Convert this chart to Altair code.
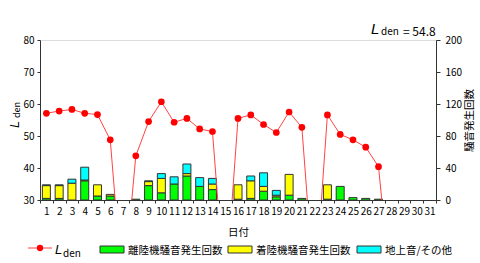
import altair as alt
import pandas as pd

days = list(range(1, 32))
lden = [57.1, 57.8, 58.3, 57.1, 56.7, 48.8, 0, 43.8, 54.5, 60.7, 54.3, 55.5, 52.2, 51.4, 0,
        55.5, 56.6, 53.6, 51.1, 57.5, 52.7, 0, 56.6, 50.5, 48.8, 46.5, 40.4, 0, None, None, None]
takeoff = [2, 2, 0, 24, 5, 5, 0, 1, 18, 9, 20, 30, 17, 13, 0, 1, 2, 11, 4, 6, 2, 0, 1, 17, 3, 2, 1, 0, 0, 0, 0]
landing = [16, 16, 21, 1, 14, 2, 0, 0, 5, 18, 0, 3, 0, 7, 0, 18, 22, 6, 2, 26, 0, 0, 18, 0, 0, 0, 0, 0, 0, 0, 0]
ground = [1, 1, 5, 16, 0, 0, 0, 0, 1, 6, 9, 12, 11, 7, 0, 0, 6, 17, 6, 0, 0, 0, 0, 0, 0, 0, 0, 0, 0, 0, 0]
series = ["離陸機騒音発生回数", "着陸機騒音発生回数", "地上音/その他"]
colors = ["#00FF00", "#FFFF00", "#00FFFF"]
lden_total = "= 54.8"

FONT = "Noto Sans CJK JP"

rows = []
for i, d in enumerate(days):
    for k, vals in enumerate([takeoff, landing, ground]):
        if vals[i] > 0:
            rows.append({"day": d, "series": series[k], "ord": k, "count": vals[i]})
bar_df = pd.DataFrame(rows)
line_df = pd.DataFrame({"day": days, "lden": lden})

xenc = alt.X("day:O", scale=alt.Scale(domain=days, paddingInner=0, paddingOuter=0),
             axis=alt.Axis(title="日付", labelAngle=0, labelFontSize=10, titleFontSize=10.5,
                           titleFontWeight="normal", tickBand="extent", tickSize=3,
                           labelPadding=3, titlePadding=11, domainColor="#333", tickColor="#333",
                           labelColor="#000", titleColor="#000"))

bars = alt.Chart(bar_df).mark_bar(size=8, stroke="#333", strokeWidth=1).encode(
    x=xenc,
    y=alt.Y("count:Q", stack="zero", scale=alt.Scale(domain=[0, 200]),
            axis=alt.Axis(orient="right", values=[0, 40, 80, 120, 160, 200], title="騒音発生回数",
                          titleAngle=270, titleFontSize=10.5, titleFontWeight="normal",
                          labelFontSize=10, tickSize=4, labelPadding=5, titlePadding=13, grid=False,
                          domainColor="#333", tickColor="#333", labelColor="#000", titleColor="#000")),
    color=alt.Color("series:N", scale=alt.Scale(domain=series, range=colors), legend=None),
    order=alt.Order("ord:Q"),
)

yl = alt.Y("lden:Q", scale=alt.Scale(domain=[30, 80], zero=False),
           axis=alt.Axis(orient="left", values=[30, 40, 50, 60, 70, 80], title=None,
                         labelFontSize=10, tickSize=3, labelPadding=3, grid=False,
                         domainColor="#333", tickColor="#333", labelColor="#000"))
line = alt.Chart(line_df).mark_line(color="#FF4444", strokeWidth=1, clip=True).encode(
    x=alt.X("day:O"), y=yl)
points = alt.Chart(line_df).mark_circle(color="#FF0000", size=45, opacity=1, clip=True).encode(
    x=alt.X("day:O"), y=yl)
lden_layer = alt.layer(line, points)

base = alt.Chart(pd.DataFrame({"k": [0]}))

def txt(s, x, y, size, italic=False, align="left", angle=0, baseline="alphabetic"):
    kw = dict(text=s, fontSize=size, align=align, baseline=baseline, font=FONT, color="#000")
    if italic:
        kw["fontStyle"] = "italic"
        kw["font"] = "Liberation Sans"
    if angle:
        kw["angle"] = angle
    return base.mark_text(**kw).encode(x=alt.value(x), y=alt.value(y))

ann = [
    txt("L", 331, -6, 15, italic=True),
    txt("den", 341, -5, 10),
    txt(lden_total, 363, -4, 12),
    # left axis title
    txt("L", -21, 88, 13, italic=True, angle=270),
    txt("den", -20, 78, 9, angle=270),
]

# manual legend (plot-area coordinates; plot origin at (40,40))
leg = []
leg.append(base.mark_rule(color="#FF4444", strokeWidth=1).encode(
    x=alt.value(-12), x2=alt.value(12), y=alt.value(208)))
leg.append(base.mark_circle(color="#FF0000", size=40, opacity=1).encode(
    x=alt.value(0), y=alt.value(208)))
leg.append(txt("L", 15, 214, 13, italic=True))
leg.append(txt("den", 23, 217, 10))
box_x = [60, 188, 317]
for k in range(3):
    leg.append(base.mark_rect(color=colors[k], stroke="#333", strokeWidth=1).encode(
        x=alt.value(box_x[k]), x2=alt.value(box_x[k] + 24), y=alt.value(206), y2=alt.value(213)))
    leg.append(txt(series[k], box_x[k] + 28, 214, 10.5))

chart = alt.layer(bars, lden_layer, *ann, *leg).resolve_scale(y="independent").properties(
    width=396, height=160,
    padding={"left": 40, "top": 40, "right": 44, "bottom": 63},
    autosize=alt.AutoSizeParams(type="none"),
).configure_view(stroke="#333", strokeWidth=1).configure(font=FONT, background="white")

chart.save("out.html", embed_options={"renderer": "svg", "actions": False})
